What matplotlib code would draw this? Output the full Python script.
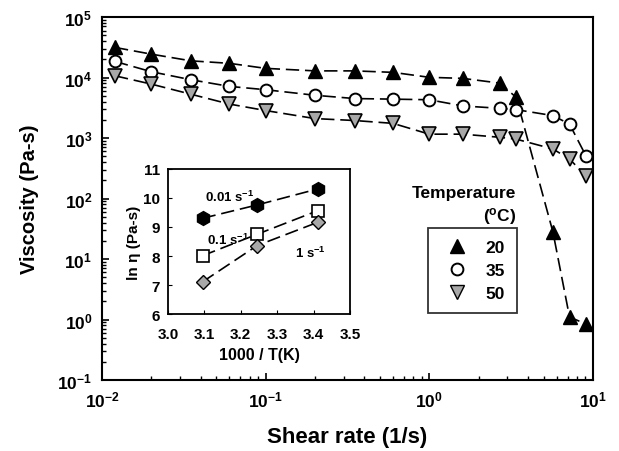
import math
import matplotlib.pyplot as plt
from matplotlib.ticker import FuncFormatter, LogLocator, NullFormatter

plt.rcParams['font.family'] = 'Liberation Sans'
plt.rcParams['font.weight'] = 'bold'
plt.rcParams['mathtext.fontset'] = 'custom'
plt.rcParams['mathtext.rm'] = 'Liberation Sans:bold'
plt.rcParams['mathtext.bf'] = 'Liberation Sans:bold'
plt.rcParams['mathtext.it'] = 'Liberation Sans:bold'

# main chart: viscosity vs shear rate
shear_rate = [0.012, 0.02, 0.035, 0.06, 0.1, 0.2, 0.35, 0.6, 1.0, 1.6, 2.7, 3.4, 5.7, 7.2, 9.1]
visc_20 = [31500, 24400, 18900, 17200, 14200, 12900, 12900, 12200, 10100, 9700, 8100, 4700, 28, 1.1, 0.84]
visc_35 = [18500, 12500, 9200, 7150, 6300, 5100, 4500, 4400, 4300, 3400, 3100, 2950, 2350, 1700, 500]
visc_50 = [10700, 7800, 5300, 3650, 2850, 2100, 1950, 1750, 1160, 1160, 1030, 960, 660, 450, 235]
temp_labels = ['20', '35', '50']

# inset: ln(viscosity) vs 1000/T
inv_temp = [3.095, 3.245, 3.411]
ln_001 = [9.30, 9.76, 10.31]
ln_01 = [8.01, 8.75, 9.56]
ln_1 = [7.11, 8.36, 9.16]
rate_labels = ['0.01 s$^{-1}$', '0.1 s$^{-1}$', '1 s$^{-1}$']

fig = plt.figure(figsize=(6.19, 4.52), dpi=100)
ax = fig.add_axes([0.1648, 0.157, 0.793, 0.803])

dash = (0, (8, 3.5))
ax.plot(shear_rate, visc_20, color='black', linestyle=dash, linewidth=1.2,
        marker='^', markersize=9.5, markerfacecolor='black', markeredgecolor='black')
ax.plot(shear_rate, visc_35, color='black', linestyle=dash, linewidth=1.2,
        marker='o', markersize=8.5, markerfacecolor='white', markeredgecolor='black', markeredgewidth=1.4)
ax.plot(shear_rate, visc_50, color='black', linestyle=dash, linewidth=1.2,
        marker='v', markersize=9.5, markerfacecolor='#a8a8a8', markeredgecolor='black', markeredgewidth=1.2)

ax.set_xscale('log')
ax.set_yscale('log')
ax.set_xlim(0.01, 10)
ax.set_ylim(0.1, 1e5)

fmt = FuncFormatter(lambda v, p: r'$\mathbf{10^{%d}}$' % round(math.log10(v)))
ax.xaxis.set_major_formatter(fmt)
ax.yaxis.set_major_formatter(fmt)
ax.xaxis.set_minor_locator(LogLocator(base=10, subs=range(2, 10)))
ax.yaxis.set_minor_locator(LogLocator(base=10, subs=range(2, 10), numticks=20))
ax.yaxis.set_major_locator(LogLocator(base=10, numticks=20))
ax.xaxis.set_minor_formatter(NullFormatter())
ax.yaxis.set_minor_formatter(NullFormatter())
ax.tick_params(which='both', direction='in', top=False, right=False, labelsize=12.5, pad=7)
ax.tick_params(which='major', length=5, width=1.2)
ax.tick_params(which='minor', length=3, width=1)
for s in ax.spines.values():
    s.set_linewidth(1.5)

ax.set_xlabel('Shear rate (1/s)', fontsize=16, fontweight='bold', labelpad=12)
ax.set_ylabel('Viscosity (Pa-s)', fontsize=14.5, fontweight='bold', labelpad=13)

# legend
h1 = plt.Line2D([], [], linestyle='none', marker='^', markersize=9.5, color='black')
h2 = plt.Line2D([], [], linestyle='none', marker='o', markersize=8.5, markerfacecolor='white',
                markeredgecolor='black', markeredgewidth=1.4)
h3 = plt.Line2D([], [], linestyle='none', marker='v', markersize=9.5, markerfacecolor='#a8a8a8',
                markeredgecolor='black')
leg = ax.legend([h1, h2, h3], temp_labels, loc='upper left', bbox_to_anchor=(0.6914, 0.4934),
                bbox_transform=fig.transFigure, borderaxespad=0,
                frameon=True, fancybox=False, edgecolor='black', fontsize=12.5,
                handletextpad=0.6, borderpad=0.7, labelspacing=0.45, handlelength=2.0)
leg.get_frame().set_linewidth(1.3)
fig.text(0.8336, 0.543, 'Temperature\n($^{o}$C)', ha='right', va='center',
         fontsize=12.5, fontweight='bold', linespacing=1.3, multialignment='right', zorder=10)

# inset
ins = fig.add_axes([0.2714, 0.303, 0.294, 0.321])
ins.plot(inv_temp, ln_001, color='black', linestyle=dash, linewidth=1.2,
         marker='h', markersize=10, markerfacecolor='black', markeredgecolor='black')
ins.plot(inv_temp, ln_01, color='black', linestyle=dash, linewidth=1.2,
         marker='s', markersize=9, markerfacecolor='white', markeredgecolor='black', markeredgewidth=1.2)
ins.plot(inv_temp, ln_1, color='black', linestyle=dash, linewidth=1.2,
         marker='D', markersize=7.5, markerfacecolor='#a8a8a8', markeredgecolor='black')
ins.set_xlim(3.0, 3.5)
ins.set_ylim(6, 11)
ins.set_xticks([3.0, 3.1, 3.2, 3.3, 3.4, 3.5])
ins.set_xticklabels(['3.0', '3.1', '3.2', '3.3', '3.4', '3.5'])
ins.set_yticks([6, 7, 8, 9, 10, 11])
ins.tick_params(direction='in', labelsize=11, length=3, top=False, right=False, pad=6)
ins.tick_params(axis='x', pad=9)
for s in ins.spines.values():
    s.set_linewidth(1.3)
ins.set_xlabel('1000 / T(K)', fontsize=11.5, fontweight='bold', labelpad=5)
ins.set_ylabel('ln η (Pa-s)', fontsize=11, fontweight='bold', labelpad=1)
ins.text(3.102, 9.9, rate_labels[0], fontsize=9.5, fontweight='bold')
ins.text(3.107, 8.4, rate_labels[1], fontsize=9.5, fontweight='bold')
ins.text(3.35, 7.95, rate_labels[2], fontsize=9.5, fontweight='bold')

plt.savefig('out.png', dpi=100)
